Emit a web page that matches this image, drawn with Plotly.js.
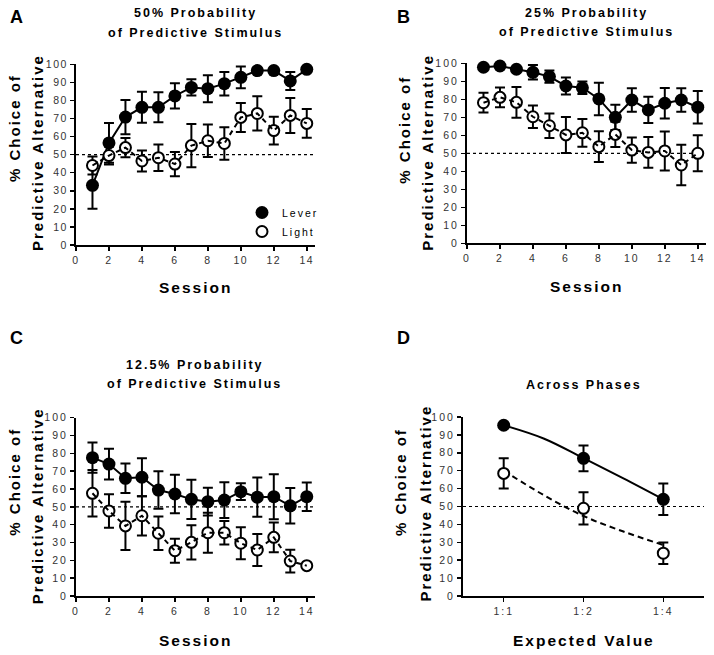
<!DOCTYPE html>
<html>
<head>
<meta charset="utf-8">
<script src="https://cdn.plot.ly/plotly-3.0.1.min.js"></script>
<style>
  html, body { margin: 0; padding: 0; background: #fff; }
  #chart { width: 714px; height: 655px; }
  .main-svg text { letter-spacing: 2px; }
  .xtick text, .ytick text { letter-spacing: 1.5px; }
  .legend, .legend .scrollbox, .legend g { clip-path: none !important; }
</style>
</head>
<body>
<div id="chart"></div>
<script>
// ---------------- DATA ----------------
var sessions = [1, 2, 3, 4, 5, 6, 7, 8, 9, 10, 11, 12, 13, 14];

// Panel A: 50% probability of predictive stimulus
var aLever    = [33, 56.5, 70.8, 76.2, 76.2, 82.5, 87.2, 86.5, 89.3, 92.8, 96.5, 96.5, 90.8, 97.2];
var aLeverErr = [13, 11, 9.5, 8.6, 8.3, 7, 4.5, 7.5, 6.5, 6, 1.5, 1, 5, 1];
var aLight    = [44, 49.5, 53.9, 46.5, 48.3, 44.8, 55, 57.7, 56.2, 70.6, 72.8, 63.3, 71.7, 67.3];
var aLightErr = [5, 5, 5.3, 5.8, 7.3, 6.7, 12, 9, 9, 8, 9.5, 7.7, 9.7, 8];

// Panel B: 25% probability
var bLever    = [97.8, 98.5, 96.7, 95, 92.6, 87.4, 86.4, 80.2, 70, 79.6, 74.1, 77.8, 79.6, 75.6];
var bLeverErr = [1, 1, 1, 4, 3.4, 4.7, 3.5, 9, 7, 6.5, 7.3, 8.5, 6.5, 9];
var bLight    = [78.1, 81.1, 78.3, 70.3, 65.3, 60.2, 61.4, 53.7, 60.5, 51.8, 50.5, 51.3, 43.5, 50];
var bLightErr = [5.5, 5.5, 8.5, 6.3, 6.8, 10, 7.7, 8.6, 7, 7, 8.5, 10.8, 11.3, 10];

// Panel C: 12.5% probability
var cLever    = [77.6, 74, 66, 66.6, 59.4, 57.2, 54.2, 52.9, 53.8, 58.5, 55.4, 55.7, 50.6, 55.7];
var cLeverErr = [8.5, 8.6, 8.3, 10.7, 10.5, 10.8, 11, 7.8, 10, 4.7, 11, 12.6, 10, 8];
var cLight    = [57.6, 47.7, 39.3, 45, 35.2, 25.4, 30.1, 35.5, 35.5, 29.6, 25.8, 32.9, 19.6, 17];
var cLightErr = [13, 9.4, 13.5, 11, 9.4, 6.7, 9.6, 11.2, 6.6, 9, 9, 8.3, 6.4, 1];

// Panel D: across phases
var dCategories = ['1:1', '1:2', '1:4'];
var dPos        = [0, 1, 2];
var dLever      = [95.4, 76.9, 54];
var dLeverErr   = [1, 7.2, 8.8];
var dLight      = [68.5, 49, 23.9];
var dLightErr   = [8.4, 9, 6];
// fitted curves
var dFitX       = [0, 0.5, 1, 1.5, 2];
var dLeverFit   = [95.4, 88, 77, 65.7, 54];
var dLightFit   = [70, 56.4, 44.7, 36, 28.5];

var xTickVals = [0, 2, 4, 6, 8, 10, 12, 14];
var yTickVals = [0, 10, 20, 30, 40, 50, 60, 70, 80, 90, 100];
var chance = 50;

// ---------------- STYLE ----------------
var W = 714, H = 655;
var FONT = 'Liberation Sans, Arial, Helvetica, sans-serif';
function px(x) { return x / W; }
function py(y) { return 1 - y / H; }

function errStyle(arr) {
  return { type: 'data', array: arr, visible: true, color: '#000', thickness: 2, width: 5 };
}

var traces = [];
function addPanel(xa, ya, xs, lever, leverErr, light, lightErr, legend) {
  traces.push({ x: xs, y: lever, xaxis: xa, yaxis: ya, type: 'scatter', mode: 'lines',
    line: { color: '#000', width: 2 }, showlegend: false, hoverinfo: 'skip' });
  traces.push({ x: xs, y: lever, xaxis: xa, yaxis: ya, type: 'scatter', mode: 'markers',
    name: 'Lever', showlegend: legend, cliponaxis: false,
    marker: { color: '#000', size: 13, line: { width: 0 } },
    error_y: errStyle(leverErr) });
  traces.push({ x: xs, y: light, xaxis: xa, yaxis: ya, type: 'scatter', mode: 'markers',
    name: 'Light', showlegend: legend, cliponaxis: false,
    marker: { color: '#fff', size: 11, line: { color: '#000', width: 2 } },
    error_y: errStyle(lightErr) });
  traces.push({ x: xs, y: light, xaxis: xa, yaxis: ya, type: 'scatter', mode: 'lines',
    line: { color: '#000', width: 2, dash: '5px,4px' }, showlegend: false, hoverinfo: 'skip' });
}
addPanel('x', 'y', sessions, aLever, aLeverErr, aLight, aLightErr, true);
addPanel('x2', 'y2', sessions, bLever, bLeverErr, bLight, bLightErr, false);
addPanel('x3', 'y3', sessions, cLever, cLeverErr, cLight, cLightErr, false);

// Panel D
traces.push({ x: dFitX, y: dLeverFit, xaxis: 'x4', yaxis: 'y4', type: 'scatter', mode: 'lines',
  line: { color: '#000', width: 2, shape: 'spline' }, showlegend: false, hoverinfo: 'skip' });
traces.push({ x: dFitX, y: dLightFit, xaxis: 'x4', yaxis: 'y4', type: 'scatter', mode: 'lines',
  line: { color: '#000', width: 2, dash: '6px,4px', shape: 'spline' }, showlegend: false, hoverinfo: 'skip' });
traces.push({ x: dPos, y: dLever, xaxis: 'x4', yaxis: 'y4', type: 'scatter', mode: 'markers',
  name: 'Lever', showlegend: false, cliponaxis: false,
  marker: { color: '#000', size: 13, line: { width: 0 } }, error_y: errStyle(dLeverErr) });
traces.push({ x: dPos, y: dLight, xaxis: 'x4', yaxis: 'y4', type: 'scatter', mode: 'markers',
  name: 'Light', showlegend: false, cliponaxis: false,
  marker: { color: '#fff', size: 11, line: { color: '#000', width: 2 } }, error_y: errStyle(dLightErr) });

var tickFont = { family: FONT, size: 10.5, color: '#333' };
function xAxis(dom, anchor) {
  return { domain: dom, anchor: anchor, range: [0, 14.5], tickvals: xTickVals,
    showline: true, linecolor: '#000', linewidth: 2, ticks: 'outside', ticklen: 4,
    tickwidth: 1.5, tickcolor: '#000', showgrid: false, zeroline: false, tickfont: tickFont,
    fixedrange: true };
}
function yAxis(dom, anchor) {
  return { domain: dom, anchor: anchor, range: [0, 100], tickvals: yTickVals,
    showline: true, linecolor: '#000', linewidth: 2, ticks: 'outside', ticklen: 4,
    tickwidth: 1.5, tickcolor: '#000', showgrid: false, zeroline: false, tickfont: tickFont,
    fixedrange: true };
}

var xA = xAxis([px(76), px(315)], 'y');
var yA = yAxis([py(245), py(64.3)], 'x');
var xB = xAxis([px(467), px(706)], 'y2');
var yB = yAxis([py(243.3), py(63.3)], 'x2');
var xC = xAxis([px(76), px(315)], 'y3');
var yC = yAxis([py(596), py(417.7)], 'x3');
var xD = xAxis([px(463), px(704)], 'y4');
xD.range = [-0.51, 2.51]; xD.tickvals = dPos; xD.ticktext = dCategories;
var yD = yAxis([py(596), py(417)], 'x4');

function ann(text, x, y, size, opts) {
  var a = { text: text, x: px(x), y: py(y), xref: 'paper', yref: 'paper', showarrow: false,
    xanchor: 'center', yanchor: 'middle',
    font: { family: FONT, size: size, color: '#000', weight: 'bold' } };
  if (opts) for (var k in opts) a[k] = opts[k];
  return a;
}
var annotations = [
  ann('A', 17.5, 16.5, 18), ann('B', 404, 16.5, 18), ann('C', 17.5, 337.5, 18), ann('D', 404, 337.5, 18),
  ann('50% Probability', 195.5, 13.3, 12.5), ann('of Predictive Stimulus', 195.5, 32.7, 12.5),
  ann('25% Probability', 586.5, 13, 12.5), ann('of Predictive Stimulus', 586.5, 32.3, 12.5),
  ann('12.5% Probability', 195, 365, 12.5), ann('of Predictive Stimulus', 195, 384.5, 12.5),
  ann('Across Phases', 583.5, 385, 12.5),
  ann('Session', 195.5, 287, 15.5), ann('Session', 586.5, 286.7, 15.5),
  ann('Session', 195.5, 640, 15.5), ann('Expected Value', 583.5, 640, 15.5),
  ann('% Choice of', 15, 128, 15, { textangle: -90 }),
  ann('Predictive Alternative', 37.5, 152.5, 15, { textangle: -90 }),
  ann('% Choice of', 403.7, 129, 15, { textangle: -90 }),
  ann('Predictive Alternative', 427.8, 152, 15, { textangle: -90 }),
  ann('% Choice of', 15, 481.7, 15, { textangle: -90 }),
  ann('Predictive Alternative', 37.5, 505.8, 15, { textangle: -90 }),
  ann('% Choice of', 400.3, 481.7, 15, { textangle: -90 }),
  ann('Predictive Alternative', 425.3, 503.3, 15, { textangle: -90 })
];

function chanceLine(xref, yref) {
  return { type: 'line', xref: xref + ' domain', yref: yref, x0: 0, x1: 1, y0: chance, y1: chance,
    line: { color: '#000', width: 1.2, dash: 'dot' }, layer: 'below' };
}

var layout = {
  width: W, height: H,
  margin: { l: 0, r: 0, t: 0, b: 0 },
  paper_bgcolor: '#fff', plot_bgcolor: '#fff',
  font: { family: FONT, color: '#000' },
  xaxis: xA, yaxis: yA, xaxis2: xB, yaxis2: yB, xaxis3: xC, yaxis3: yC, xaxis4: xD, yaxis4: yD,
  showlegend: true,
  legend: { x: px(242), y: py(198), xanchor: 'left', yanchor: 'top', bgcolor: 'rgba(0,0,0,0)',
    font: { family: FONT, size: 10.5, color: '#000' }, itemwidth: 30, tracegroupgap: 0 },
  annotations: annotations,
  shapes: [chanceLine('x', 'y'), chanceLine('x2', 'y2'), chanceLine('x3', 'y3'), chanceLine('x4', 'y4')]
};

Plotly.newPlot('chart', traces, layout, { displayModeBar: false, staticPlot: true });
</script>
</body>
</html>
